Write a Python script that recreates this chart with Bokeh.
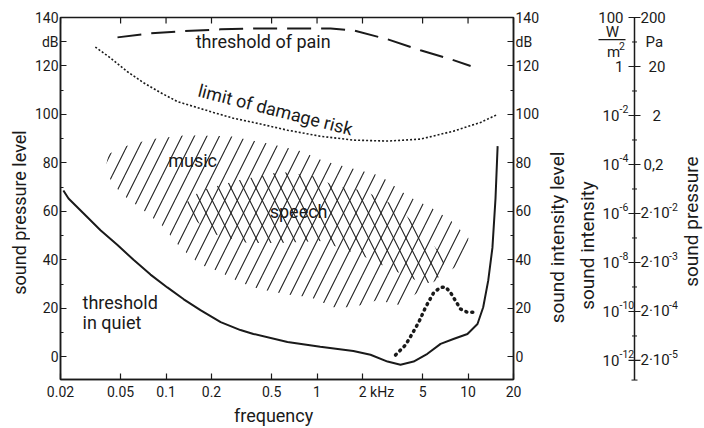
from bokeh.plotting import figure
from bokeh.models import Range1d, LinearAxis, FixedTicker
from bokeh.layouts import row
from bokeh.embed import file_html
from bokeh.resources import INLINE
from bokeh.core.properties import value
import math

FONT = "Roboto"
INK = "#1a1a1a"

# ---------------- data (frequency in kHz, level in dB) ----------------
quiet_f = [0.0209, 0.0226, 0.0288, 0.0368, 0.0477, 0.0609, 0.0789, 0.102, 0.131, 0.169,
           0.230, 0.311, 0.379, 0.637, 1.05, 1.74, 2.26, 2.93, 3.57, 4.36,
           5.38, 6.58, 8.0, 9.91, 11.55, 12.6, 13.6, 14.5, 15.2, 15.7]
quiet_db = [68.6, 65.3, 58.8, 52.2, 46.1, 40.0, 33.9, 28.6, 23.7, 19.2,
            14.3, 11.0, 9.4, 6.1, 4.1, 2.4, 0.8, -2.0, -3.3, -2.0,
            1.2, 5.3, 7.3, 9.4, 13.5, 20.4, 31.4, 44.9, 65.3, 86.9]

pain_f = [0.0477, 0.0789, 0.125, 0.230, 0.422, 0.776, 1.23, 1.74, 2.93, 4.84, 8.0, 10.4]
pain_db = [131.8, 133.5, 134.3, 135.1, 135.5, 135.5, 135.5, 134.7, 131.0, 126.5, 122.4, 120.0]

damage_f = [0.034, 0.0429, 0.0556, 0.0709, 0.0918, 0.119, 0.152, 0.206, 0.280, 0.379,
            0.637, 1.05, 1.74, 2.93, 4.84, 8.0, 12.1, 15.7]
damage_db = [127.8, 123.3, 117.6, 113.1, 109.0, 105.3, 103.3, 100.8, 98.4, 96.7,
             93.5, 91.0, 89.4, 89.0, 89.8, 93.1, 96.7, 100.0]

dots_f = [3.31, 3.85, 4.27, 4.72, 5.23, 5.93, 6.58, 7.09, 7.65, 8.26, 8.91, 9.86, 11.2]
dots_db = [0.7, 4.8, 9.5, 14.3, 20.4, 26.5, 28.6, 28.8, 26.5, 23.1, 19.7, 18.4, 18.4]

music_f = [0.0416, 0.0538, 0.0789, 0.1346, 0.267, 0.492, 0.776, 1.104, 1.74, 2.63,
           4.03, 5.82, 7.65, 10.07, 9.62, 6.58, 4.84, 3.57, 2.51, 1.74,
           1.286, 0.905, 0.637, 0.422, 0.311, 0.219, 0.169, 0.125, 0.0947, 0.0709,
           0.0523, 0.0442, 0.0397]
music_db = [83.7, 86.9, 89.8, 91.4, 91.0, 87.8, 84.9, 80.8, 77.6, 74.7,
            66.1, 61.2, 56.3, 49.0, 40.0, 32.7, 27.3, 21.2, 23.3, 20.4,
            20.4, 24.5, 25.7, 27.8, 30.6, 35.5, 38.0, 44.9, 53.9, 60.4,
            66.5, 71.4, 77.6]

speech_f = [0.1346, 0.169, 0.297, 0.573, 1.007, 1.286, 2.03, 3.41, 5.07, 7.09,
            6.37, 5.23, 3.57, 1.94, 1.05, 0.573, 0.346, 0.197, 0.145]
speech_db = [63.3, 68.6, 72.7, 76.3, 74.3, 70.6, 68.6, 62.0, 51.0, 40.0,
             32.7, 29.8, 34.3, 42.0, 47.8, 46.9, 46.9, 51.0, 58.0]

x_ticks = [0.02, 0.05, 0.1, 0.2, 0.5, 1, 2, 5, 10, 20]
x_tick_labels = ["0.02", "0.05", "0.1", "0.2", "0.5", "1",
                 "\u00a0" * 8 + "2 kHz", "5", "10", "20"]
db_major = [0, 20, 40, 60, 80, 100, 120, 140]
db_minor = [10, 30, 50, 70, 90, 110]
db_unit_level = 130

# far-right scale
scale_major = [0, 20, 40, 60, 80, 100, 120, 140]
scale_minor = [10, 30, 50, 70, 90, 110, 130]
scale_bottom = -8
intensity_pow_db = [100, 80, 60, 40, 20, 0]
intensity_pow_exp = ["-2", "-4", "-6", "-8", "-10", "-12"]
intensity_top = ["100", "1"]
intensity_top_db = [140, 120]
pressure_short = ["200", "20", "2", "0,2"]
pressure_short_db = [140, 120, 100, 80]
pressure_pow_db = [60, 40, 20, 0]
pressure_pow_exp = ["-2", "-3", "-4", "-5"]

# ---------------- layout constants ----------------
Y0, Y1 = -9.4, 140.0
H = 428
TOP, BOT = 17, 45
W0 = 30
W1 = 545 - W0
pxdb = (H - TOP - BOT) / (Y1 - Y0)
full_y = (Y0 - BOT / pxdb, Y1 + TOP / pxdb)


def side_panel(x0, x1):
    f = figure(width=x1 - x0, height=H, x_range=Range1d(x0, x1), y_range=Range1d(*full_y),
               x_axis_location=None, y_axis_location=None,
               min_border=0, output_backend="svg", toolbar_location=None)
    f.frame_align = False
    f.grid.visible = False
    f.outline_line_color = None
    f.background_fill_color = "white"
    f.border_fill_color = "white"
    return f


tf = dict(text_font=value(FONT), text_color=INK, text_baseline="middle")

# left panel with the rotated axis title
p0 = side_panel(0, W0)
p0.text(x=[19], y=[60.4], text=["sound pressure level"], angle=[math.pi / 2],
        text_align="center", text_font_size="18px", **tf)

p = figure(width=W1, height=H, x_axis_type="log",
           x_range=Range1d(0.02, 20), y_range=Range1d(Y0, Y1),
           min_border_left=60 - W0, min_border_right=W0 + W1 - 513,
           min_border_top=TOP, min_border_bottom=BOT,
           output_backend="svg", toolbar_location=None)
p.frame_align = False
p.xgrid.grid_line_color = None
p.ygrid.grid_line_color = None
p.outline_line_color = INK
p.outline_line_width = 1.5
p.background_fill_color = "white"
p.border_fill_color = "white"


def style_axis(ax, size="14px"):
    ax.major_tick_in = 6
    ax.major_tick_out = 0
    ax.minor_tick_in = 3
    ax.minor_tick_out = 0
    ax.axis_line_color = INK
    ax.axis_line_width = 1.5
    ax.major_tick_line_color = INK
    ax.major_tick_line_width = 1.2
    ax.minor_tick_line_color = INK
    ax.minor_tick_line_width = 1.0
    ax.major_label_text_font = FONT
    ax.major_label_text_font_size = size
    ax.major_label_text_color = INK
    ax.axis_label_text_font = FONT
    ax.axis_label_text_font_style = "normal"
    ax.axis_label_text_color = INK
    ax.axis_label_text_font_size = "18px"


xa = p.xaxis[0]
xa.ticker = FixedTicker(ticks=x_ticks, minor_ticks=[])
xa.major_label_overrides = dict(zip(x_ticks, x_tick_labels))
style_axis(xa)
xa.major_label_standoff = 4
xa.axis_label = "frequency" + "\u00a0" * 6
xa.axis_label_standoff = 2

ya = p.yaxis[0]
ya.ticker = FixedTicker(ticks=db_major + [db_unit_level], minor_ticks=db_minor)
ya.major_label_overrides = {db_unit_level: "dB"}
style_axis(ya)
ya.major_label_standoff = 2

right = LinearAxis(ticker=FixedTicker(ticks=db_major + [db_unit_level], minor_ticks=db_minor))
right.major_label_overrides = {db_unit_level: "dB"}
style_axis(right)
right.major_label_standoff = 2
p.add_layout(right, "right")

# top-edge ticks (inside the frame) at the frequency tick positions
p.segment(x0=x_ticks, x1=x_ticks, y0=[Y1] * len(x_ticks), y1=[Y1 - 6 / pxdb] * len(x_ticks),
          line_color=INK, line_width=1.2)

# hatched regions
p.patch(music_f, music_db, fill_color=None, line_color=None,
        hatch_pattern="/", hatch_color="#222222", hatch_weight=1.1, hatch_scale=25)
p.patch(speech_f, speech_db, fill_color=None, line_color=None,
        hatch_pattern="\\", hatch_color="#222222", hatch_weight=1.1, hatch_scale=25)

# curves
p.line(quiet_f, quiet_db, line_color=INK, line_width=2, line_join="round")
p.line(pain_f, pain_db, line_color=INK, line_width=2, line_dash="24 10")
p.line(damage_f, damage_db, line_color=INK, line_width=1.6, line_dash="2 2")
p.line(dots_f, dots_db, line_color=INK, line_width=3.5, line_dash="1 5", line_cap="round")

# in-plot texts
p.text(x=[0.44, 0.150, 0.755], y=[130.2, 80.8, 60.0],
       text=["threshold of pain", "music", "speech"],
       text_align="center", text_font_size="18px", **tf)
p.text(x=[0.53], y=[102.0], text=["limit of damage risk"], angle=[-0.25],
       text_align="center", text_font_size="18px", **tf)
p.text(x=[0.028, 0.028], y=[22.4, 14.3], text=["threshold", "in quiet"],
       text_align="left", text_font_size="18px", **tf)

# ---------------- far-right scale panel ----------------
p2 = side_panel(W0 + W1, 704)

XL = 634
p2.line([XL, XL], [scale_bottom, scale_major[-1]], line_color=INK, line_width=1.5)
p2.segment(x0=[XL - 6] * len(scale_major), x1=[XL + 6] * len(scale_major),
           y0=scale_major, y1=scale_major, line_color=INK, line_width=1.2)
p2.segment(x0=[XL - 2.5] * len(scale_minor), x1=[XL + 2.5] * len(scale_minor),
           y0=scale_minor, y1=scale_minor, line_color=INK, line_width=1.0)
p2.segment(x0=[XL - 3], x1=[XL + 3], y0=[scale_bottom], y1=[scale_bottom],
           line_color=INK, line_width=1.0)

p2.text(x=[623] * 2, y=intensity_top_db, text=intensity_top, text_align="right",
        text_font_size="15px", **tf)
p2.text(x=[602] * len(intensity_pow_db), y=intensity_pow_db, text=["10"] * len(intensity_pow_db),
        text_align="left", text_font_size="15px", **tf)
p2.text(x=[619] * len(intensity_pow_db), y=[d + 2.8 for d in intensity_pow_db], text=intensity_pow_exp,
        text_align="left", text_font_size="10.5px", **tf)
# W / m^2 unit
p2.text(x=[612], y=[134.0], text=["W"], text_align="center", text_font_size="15px", **tf)
p2.line([598, 625], [131.0, 131.0], line_color=INK, line_width=1.2)
p2.text(x=[613], y=[126.0], text=["m"], text_align="center", text_font_size="15px", **tf)
p2.text(x=[618.5], y=[128.5], text=["2"], text_align="left", text_font_size="10.5px", **tf)

p2.text(x=[640, 648, 652, 643], y=pressure_short_db, text=pressure_short, text_align="left",
        text_font_size="15px", **tf)
p2.text(x=[645], y=[130], text=["Pa"], text_align="left", text_font_size="15px", **tf)
p2.text(x=[640] * 4, y=pressure_pow_db, text=["2·10"] * 4, text_align="left",
        text_font_size="15px", **tf)
p2.text(x=[668.5] * 4, y=[d + 2.8 for d in pressure_pow_db], text=pressure_pow_exp,
        text_align="left", text_font_size="10.5px", **tf)

p2.text(x=[557, 587, 691], y=[50.2, 46.9, 56.7],
        text=["sound intensity level", "sound intensity", "sound pressure"],
        angle=[math.pi / 2] * 3, text_align="center", text_font_size="19px", **tf)

layout = row(p0, p, p2)
open("out.html", "w").write(file_html(layout, INLINE))
